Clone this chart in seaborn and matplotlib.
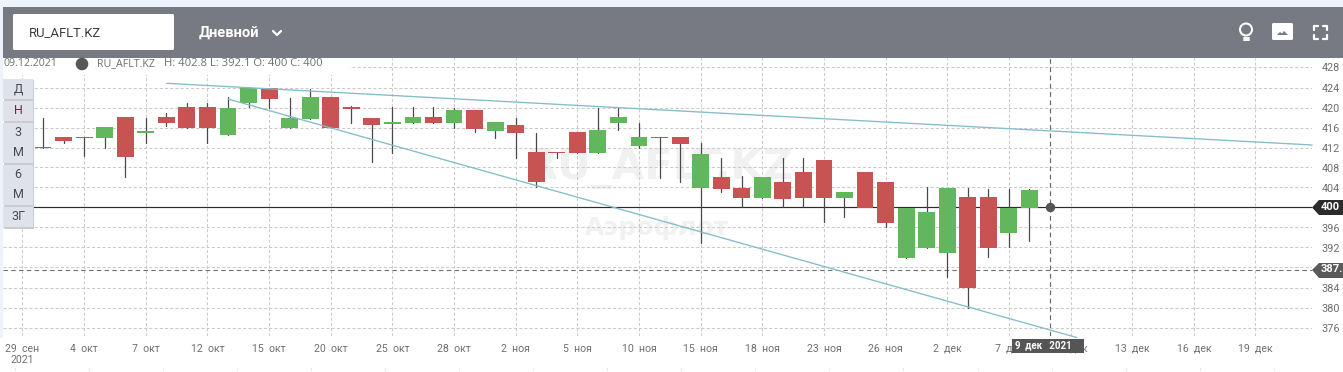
import numpy as np
import pandas as pd
import matplotlib
matplotlib.use("Agg")
import matplotlib.pyplot as plt
from matplotlib.patches import Rectangle, FancyBboxPatch, Polygon, Circle
import seaborn as sns

# ---------- data ----------
bar_index = list(range(1, 50))
open_ = [412.1,414.1,414.1,414.0,418.1,414.9,418.1,420.1,420.1,414.5,420.9,424.0,415.9,417.7,422.1,420.1,417.9,416.7,416.9,418.1,
         416.9,419.5,415.3,416.5,411.1,411.1,415.1,410.9,416.9,412.3,414.1,414.1,403.9,406.1,403.9,401.9,405.1,407.1,409.5,401.9,
         407.1,405.1,389.9,391.9,390.9,402.1,402.1,394.9,400.0]
close = [411.9,413.3,413.9,416.1,410.2,415.3,416.9,415.9,415.9,420.0,424.0,421.7,418.0,422.1,415.9,419.7,416.5,417.1,418.1,416.9,
         419.5,415.7,417.1,414.9,405.1,410.9,410.9,415.5,418.1,414.1,413.9,412.7,410.7,403.7,401.9,406.1,401.7,401.9,401.9,403.1,
         400.0,396.9,399.9,399.1,403.9,383.9,391.9,399.9,403.5]
high  = [418.0,414.1,414.1,416.1,418.1,418.0,419.0,421.0,421.0,422.2,424.0,424.0,422.0,423.6,422.1,420.4,417.9,420.1,420.1,420.1,
         420.0,419.5,417.1,418.0,415.0,411.1,415.1,420.0,420.0,417.0,414.1,414.1,412.8,410.0,406.2,406.1,409.8,410.0,409.5,403.1,
         407.1,405.1,399.9,404.0,403.9,403.8,403.6,403.7,403.7]
low   = [411.9,413.0,410.3,412.0,406.0,412.8,416.4,415.9,412.8,414.5,420.1,420.0,415.9,417.7,415.9,417.0,409.0,411.0,416.9,416.9,
         416.0,415.2,414.0,410.0,404.2,410.0,410.9,410.9,415.5,412.0,405.8,405.1,392.8,403.0,400.0,401.9,400.2,400.0,397.0,398.0,
         400.0,396.0,389.9,391.9,386.0,380.0,390.0,392.0,393.4]

y_ticks = list(range(376, 429, 4))
y_tags = [400, 388]
x_tick_pos = list(range(0, 61, 3))
x_tick_labels = ["29  сен\n2021","4  окт","7  окт","12  окт","15  окт","20  окт","25  окт","28  окт",
                 "2  ноя","5  ноя","10  ноя","15  ноя","18  ноя","23  ноя","26  ноя","2  дек",
                 "7  дек","10  дек","13  дек","16  дек","19  дек"]
upper_x, upper_y = [7.02, 62.75], [424.84, 412.5]
lower_x, lower_y = [10.0, 51.3], [421.7, 374.0]
last_price = 400.0
dashed_price = 387.5
cross_idx = 50
symbol = "RU_AFLT.KZ"
legend_date = "09.12.2021"
legend_ohlc = "H: 402.8 L: 392.1 O: 400 C: 400"
range_buttons = ["Д", "Н", "3\nМ", "6\nМ", "3Г"]

# ---------- frames ----------
df = pd.DataFrame(dict(idx=bar_index, open=open_, close=close, high=high, low=low))
df["top"] = df[["open", "close"]].max(axis=1)
df["bot"] = df[["open", "close"]].min(axis=1)
df["height"] = df["top"] - df["bot"]
wicks = df.melt(id_vars="idx", value_vars=["low", "high"], value_name="price")
red = df[df.close < df.open].sort_values("idx")
green = df[df.close >= df.open].sort_values("idx")
trend = pd.DataFrame(dict(x=upper_x + lower_x, y=upper_y + lower_y, k=["u", "u", "l", "l"]))

# ---------- style ----------
sns.set_theme(style="white")
plt.rcParams["font.family"] = ["Roboto", "DejaVu Sans"]

W, H = 1343, 372
fig = plt.figure(figsize=(W / 100, H / 100), dpi=100, facecolor="white")
L, R, T, B = 3, 1312, 58, 336
ax = fig.add_axes([L / W, 1 - B / H, (R - L) / W, (B - T) / H], facecolor="white")

GRID = "#cbcbcb"
TXT = "#6f6f6f"
RED = "#c75353"
GREEN = "#62b65d"
TREND = "#84bcc9"
DARK = "#555558"

# watermark
ax.text(30.97, 407.9, symbol, fontsize=30, fontweight="bold", color="#f1f1f1",
        ha="center", va="center", family="DejaVu Sans", zorder=0.5)
ax.text(30.9, 395.9, "Аэрофлот", fontsize=18, fontweight="bold", color="#f1f1f1",
        ha="center", va="center", family="DejaVu Sans", zorder=0.5)

# wicks and bodies
sns.lineplot(data=wicks, x="idx", y="price", units="idx", estimator=None, sort=False,
             color="#4a4a4a", linewidth=0.9, ax=ax, zorder=3, legend=False)
for part, col in [(red, RED), (green, GREEN)]:
    sns.barplot(x=part["idx"].to_numpy(), y=part["height"].to_numpy(), bottom=part["bot"].to_numpy(),
                native_scale=True, width=0.82, color=col, saturation=1, linewidth=0,
                errorbar=None, ax=ax, zorder=4)

# trend lines
sns.lineplot(data=trend, x="x", y="y", units="k", estimator=None, sort=False, color=TREND,
             linewidth=0.95, ax=ax, zorder=5, legend=False)
for ln in ax.lines[-2:]:
    ln.set_clip_on(False)

ax.axhline(last_price, color="#2b2b2b", lw=0.85, zorder=2.5)
ax.axhline(dashed_price, color="#707070", lw=0.8, dashes=(4, 3), zorder=2.5)
ax.axvline(cross_idx, color="#66666a", lw=0.85, dashes=(4, 3), zorder=2.5)
ax.scatter([cross_idx], [last_price], s=46, color=DARK, zorder=6, linewidths=0)

ax.set_xlim((L - 22.5) / 20.55, (R - 22.5) / 20.55)
ax.set_ylim(400 + (207.5 - B) / 5, 400 + (207.5 - T) / 5)
ax.set_xticks(x_tick_pos)
ax.set_xticklabels(x_tick_labels, fontsize=7.6, color=TXT, linespacing=1.15)
ax.set_yticks(y_ticks)
ax.set_yticklabels(["" if v in y_tags else str(v) for v in y_ticks], fontsize=7.8, color=TXT)
ax.yaxis.tick_right()
ax.tick_params(axis="x", length=0, pad=5.5)
ax.tick_params(axis="y", length=0, pad=7)
ax.set_xlabel("")
ax.set_ylabel("")
ax.grid(True, color=GRID, lw=0.75, dashes=(3, 2))
ax.set_axisbelow(True)
for s in ax.spines.values():
    s.set_visible(False)

# ---------- page chrome in pixel coordinates ----------
ui = fig.add_axes([0, 0, 1, 1], facecolor="none", zorder=5)
ui.set_xlim(0, W)
ui.set_ylim(H, 0)
ui.axis("off")

STRIP = "#eef2fb"
ui.add_patch(Rectangle((0, 0), W, 7, color=STRIP, lw=0))
ui.add_patch(Rectangle((0, 0), 3, 338, color=STRIP, lw=0))
ui.add_patch(Rectangle((3, 7), W - 3, 51, color="#777983", lw=0))
ui.add_patch(FancyBboxPatch((13, 14), 161, 36, boxstyle="round,pad=0,rounding_size=1.5", fc="white", ec="none"))
ui.text(29, 32.5, symbol, fontsize=9.4, color="#3c3c3c", va="center", ha="left")
ui.text(199, 33, "Дневной", fontsize=10.6, color="white", fontweight="bold", va="center", ha="left")
ui.plot([273, 277, 281], [31, 35, 31], color="white", lw=1.6, solid_capstyle="round")

# light bulb icon
ui.add_patch(Circle((1246, 29.5), 6, fc="none", ec="white", lw=1.5))
ui.plot([1243.5, 1248.5], [37.5, 37.5], color="white", lw=1.4)
ui.plot([1243.5, 1248.5], [40, 40], color="white", lw=1.4)
# picture icon
ui.add_patch(FancyBboxPatch((1272, 23), 21, 17, boxstyle="round,pad=0,rounding_size=1.5", fc="white", ec="none"))
ui.add_patch(Polygon([(1277, 35), (1280, 32), (1282, 33.5), (1284, 31), (1288, 35)], fc="#777983", ec="none"))
# fullscreen icon
for cx, cy, dx, dy in [(1313.5, 25.5, 1, 1), (1326.5, 25.5, -1, 1), (1313.5, 39, 1, -1), (1326.5, 39, -1, -1)]:
    ui.plot([cx, cx, cx + 4 * dx], [cy + 4 * dy, cy, cy], color="white", lw=1.6)

# legend line
ui.add_patch(Rectangle((3, 58), 347, 17, color="white", lw=0))
ui.text(4, 63.5, legend_date, fontsize=7.7, color=TXT, va="center", ha="left", family="Open Sans")
ui.add_patch(Circle((82, 64), 6.3, fc="#58585a", ec="none"))
ui.text(97, 63.5, symbol, fontsize=7.7, color=TXT, va="center", ha="left", family="Open Sans")
ui.text(164, 63.5, legend_ohlc, fontsize=8.1, color=TXT, va="center", ha="left", family="Open Sans")

# range buttons
btn_y = [(79, 99), (101, 121), (123, 163), (165, 205), (207, 227)]
ui.add_patch(Rectangle((4, 80), 30, 149, color="#c9ccd3", lw=0))
for lab, (y0, y1) in zip(range_buttons, btn_y):
    ui.add_patch(Rectangle((3, y0), 30, y1 - y0, color="#dfe2ea", lw=0))
    col = "#6b2f3c" if lab == "Н" else "#4a4a55"
    parts = lab.split("\n")
    if len(parts) == 1:
        ui.text(18, (y0 + y1) / 2, parts[0], fontsize=9, color=col, ha="center", va="center")
    else:
        ui.text(18, y0 + 10, parts[0], fontsize=9, color=col, ha="center", va="center")
        ui.text(18, y1 - 10, parts[1], fontsize=9, color=col, ha="center", va="center")

# right-hand price tags
ui.add_patch(Polygon([(1312, 207.5), (1319, 200), (1343, 200), (1343, 215), (1319, 215)], fc="#2b2b2b", ec="none"))
ui.text(1321, 207.5, "400", fontsize=8, color="white", fontweight="bold", va="center", ha="left")
ui.add_patch(Polygon([(1312, 270), (1319, 263), (1343, 263), (1343, 278), (1319, 278)], fc="#5a5a5a", ec="none"))
ui.text(1321, 269, "387.", fontsize=8, color="white", fontweight="bold", va="center", ha="left")

# date tag
ui.add_patch(Rectangle((1012, 339), 72, 13.5, color="#555555", lw=0))
ui.text(1043.5, 345.5, "9  дек   2021", fontsize=7, color="white", fontweight="bold", va="center", ha="center")

# faint ticks of a following panel at the bottom edge
bottom_ticks = [15, 89, 163, 237, 311, 385, 459, 533, 607, 681, 755, 829, 903, 978, 1052, 1126, 1200, 1274]
for x in bottom_ticks:
    ui.plot([x, x], [368, 372], color="#dddddd", lw=0.8, dashes=(2, 1.5))

fig.savefig("out.png", dpi=100, facecolor="white")
